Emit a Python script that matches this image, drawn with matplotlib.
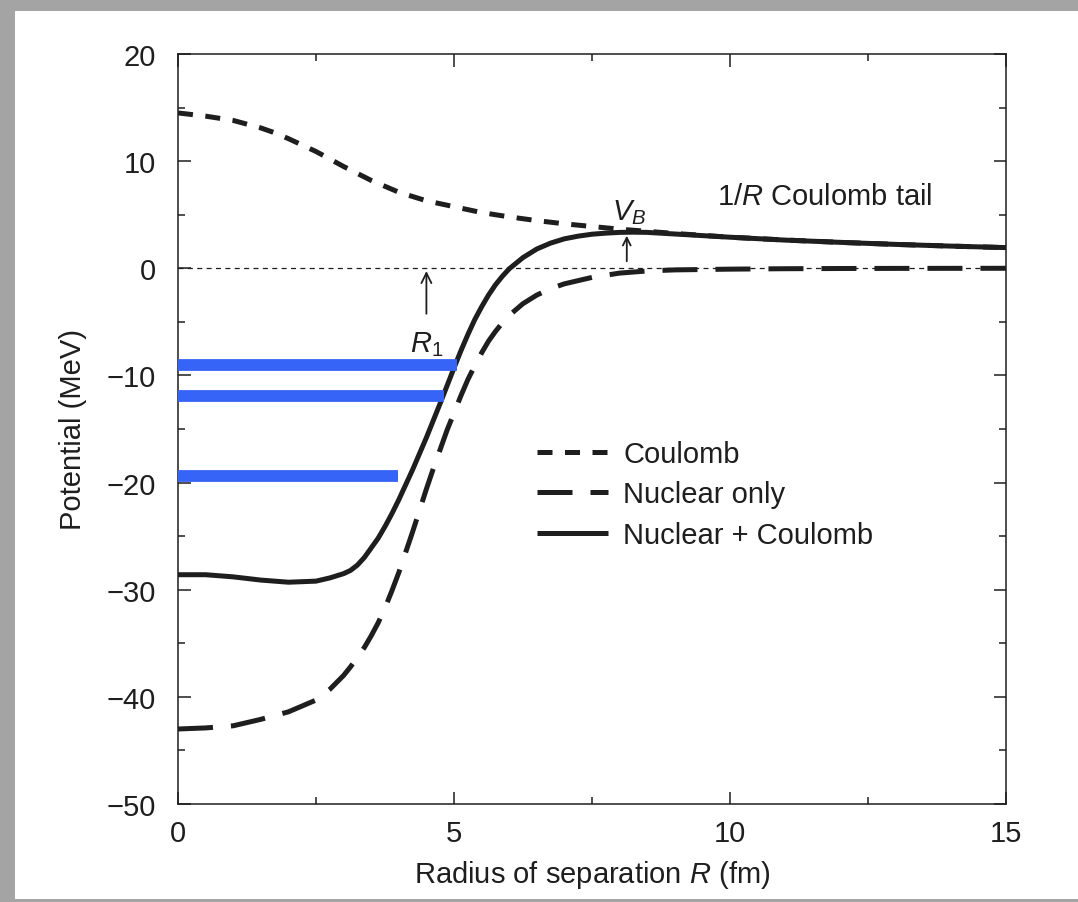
#!/usr/bin/env python3
# -*- coding: utf-8 -*-

"""
Potential energy versus radius of separation: Coulomb, nuclear, and both.
"""

### Import Space ###

import matplotlib
matplotlib.use("Agg")
import matplotlib.pyplot as plt
from matplotlib.patches import Rectangle

### Global Var/stat ###

# Coulomb only (short dashes)
coulomb_r = [0, 0.5, 1.0, 1.5, 1.75, 2.0, 2.25, 2.5, 2.75, 3.0, 3.25, 3.5,
             3.75, 4.0, 4.5, 5.0, 5.5, 6.0, 6.5, 7.0, 7.5, 8.0, 9, 10, 11,
             12, 13, 14, 15]
coulomb_v = [14.5, 14.2, 13.8, 13.1, 12.65, 12.1, 11.5, 10.9, 10.2, 9.5, 8.85,
             8.2, 7.65, 7.1, 6.3, 5.75, 5.2, 4.8, 4.45, 4.15, 3.9, 3.65, 3.25,
             2.9, 2.64, 2.42, 2.23, 2.07, 1.93]

# Nuclear only (long dashes)
nuclear_r = [0, 0.5, 1.0, 1.5, 2.0, 2.5, 2.75, 3.0, 3.125, 3.25, 3.375, 3.5,
             3.625, 3.75, 3.875, 4.0, 4.125, 4.25, 4.375, 4.5, 4.625, 4.75,
             4.875, 5.0, 5.125, 5.25, 5.375, 5.5, 5.625, 5.75, 5.875, 6.0,
             6.25, 6.5, 6.75, 7.0, 7.5, 8.0, 8.5, 9, 10, 11, 12, 13, 15]
nuclear_v = [-43.0, -42.9, -42.7, -42.1, -41.4, -40.3, -39.3, -38.0, -37.2,
             -36.3, -35.4, -34.3, -33.1, -31.7, -30.1, -28.4, -26.5, -24.6,
             -22.6, -20.6, -18.7, -16.9, -15.1, -13.5, -11.9, -10.4, -9.1,
             -7.9, -6.8, -5.9, -5.1, -4.4, -3.3, -2.5, -1.9, -1.45, -0.85,
             -0.45, -0.25, -0.15, -0.08, -0.04, -0.02, -0.01, 0.0]

# Nuclear + Coulomb (solid)
total_r = [0, 0.5, 1.0, 1.5, 2.0, 2.5, 2.75, 3.0, 3.125, 3.25, 3.375, 3.5,
           3.625, 3.75, 3.875, 4.0, 4.125, 4.25, 4.375, 4.5, 4.625, 4.75,
           4.875, 5.0, 5.125, 5.25, 5.375, 5.5, 5.625, 5.75, 5.875, 6.0,
           6.25, 6.5, 6.75, 7.0, 7.25, 7.5, 7.75, 8.0, 8.25, 8.5, 9, 10, 11,
           12, 13, 14, 15]
total_v = [-28.6, -28.6, -28.8, -29.1, -29.3, -29.2, -28.9, -28.5, -28.2,
           -27.7, -27.0, -26.1, -25.2, -24.1, -22.9, -21.6, -20.2, -18.8,
           -17.3, -15.8, -14.2, -12.6, -10.95, -9.3, -7.7, -6.2, -4.8, -3.6,
           -2.5, -1.55, -0.75, -0.05, 1.0, 1.8, 2.35, 2.75, 3.0, 3.18, 3.28,
           3.35, 3.37, 3.35, 3.2, 2.9, 2.63, 2.42, 2.23, 2.07, 1.93]

# bound levels (blue bars): energy and right end
level_e = [-9.05, -11.9, -19.4]
level_r = [5.05, 4.82, 3.98]

R1_POS = 4.5
VB_POS = 8.13
VB_VAL = 3.3

### Running Script Space ###

if __name__ == '__main__':
    plt.rcParams['font.family'] = ['Liberation Sans', 'DejaVu Sans']
    plt.rcParams['mathtext.fontset'] = 'custom'
    plt.rcParams['mathtext.rm'] = 'Liberation Sans'
    plt.rcParams['mathtext.it'] = 'Liberation Sans:italic'
    plt.rcParams['font.size'] = 21
    ink = '#1e1e1e'

    fig = plt.figure(figsize=(10.78, 9.03), dpi=100)
    fig.patch.set_facecolor('#a4a4a4')
    fig.patches.append(Rectangle((15/1078, 0.0033), 1.0, 0.9834,
                                 transform=fig.transFigure,
                                 facecolor='white', edgecolor='none',
                                 zorder=-10))

    ax = fig.add_axes([178/1078, 98/903, 828/1078, 750/903])
    ax.set_facecolor('white')

    # zero reference line
    ax.plot([0, 15], [0, 0], color=ink, lw=0.9, ls=(0, (4, 3.5)), zorder=1)

    ax.plot(coulomb_r, coulomb_v, color=ink, lw=3.6, ls=(0, (3.0, 2.5)),
            label='Coulomb', zorder=3)
    ax.plot(nuclear_r, nuclear_v, color=ink, lw=3.6, ls=(0, (7, 3.6)),
            label='Nuclear only', zorder=3)
    ax.plot(total_r, total_v, color=ink, lw=3.6, solid_capstyle='butt',
            solid_joinstyle='round', label='Nuclear + Coulomb', zorder=4)

    for e, r in zip(level_e, level_r):
        ax.plot([0, r], [e, e], color='#3664f7', lw=8.5,
                solid_capstyle='butt', zorder=5)

    # annotations
    ax.annotate('', xy=(R1_POS, 0), xytext=(R1_POS, -4.5),
                arrowprops=dict(arrowstyle='->', color=ink, lw=1.3,
                                mutation_scale=18))
    ax.text(R1_POS, -7.0, '$R_1$', ha='center', va='center', color=ink)
    ax.annotate('', xy=(VB_POS, VB_VAL), xytext=(VB_POS, 0.4),
                arrowprops=dict(arrowstyle='->', color=ink, lw=1.3,
                                mutation_scale=14))
    ax.text(VB_POS + 0.05, 3.9, '$V_B$', ha='center', va='bottom', color=ink)
    ax.text(9.76, 6.7, '1/$R$ Coulomb tail', ha='left', va='center', color=ink)

    ax.set_xlim(0, 15)
    ax.set_ylim(-50, 20)
    ax.set_xticks([0, 5, 10, 15])
    ax.set_xticks([2.5, 7.5, 12.5], minor=True)
    ax.set_yticks(range(-50, 21, 10))
    ax.set_yticks(range(-45, 20, 10), minor=True)
    ax.tick_params(which='both', direction='in', top=True, right=True,
                   color=ink, width=1.1, labelcolor=ink)
    ax.tick_params(which='major', length=9)
    ax.tick_params(which='minor', length=5)
    ax.tick_params(axis='y', pad=16)
    ax.tick_params(axis='x', pad=11)
    for s in ax.spines.values():
        s.set_linewidth(1.1)
        s.set_color(ink)

    ax.set_xlabel('Radius of separation $R$ (fm)', color=ink, labelpad=8)
    ax.set_ylabel('Potential (MeV)', color=ink, labelpad=14)

    ax.legend(loc='upper left', bbox_to_anchor=(0.4336, 0.485),
              frameon=False, handlelength=2.45, handletextpad=0.5,
              borderpad=0, borderaxespad=0, labelspacing=0.42,
              labelcolor=ink)

    fig.savefig('out.png', dpi=100, facecolor=fig.get_facecolor())
